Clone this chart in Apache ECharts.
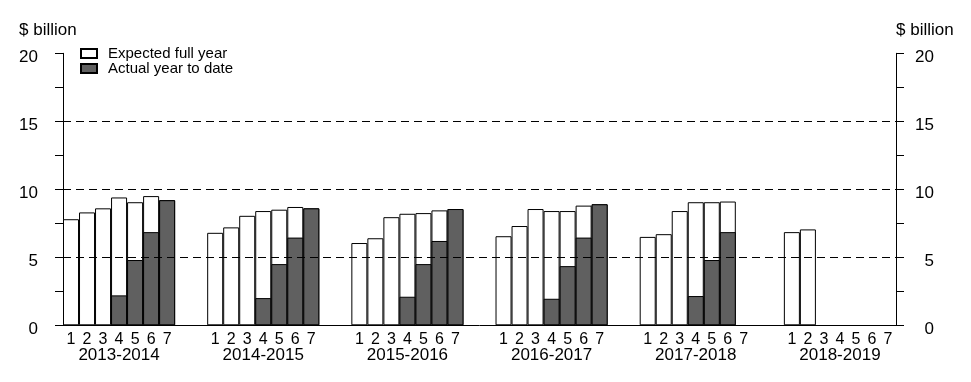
<!DOCTYPE html>
<html>
<head>
<meta charset="utf-8">
<script src="https://cdn.jsdelivr.net/npm/echarts@6/dist/echarts.min.js"></script>
<style>
html,body{margin:0;padding:0;background:#fff;}
#chart{width:971px;height:382px;}
</style>
</head>
<body>
<div id="chart"></div>
<script>
const years = ['2013-2014', '2014-2015', '2015-2016', '2016-2017', '2017-2018', '2018-2019'];
const subLabels = ['1', '2', '3', '4', '5', '6', '7'];
const yTicks = [0, 5, 10, 15, 20];
const gridLines = [5, 10, 15];

const expected_2013_14 = [7.8, 8.3, 8.6, 9.4, 9.05, 9.5, 9.2];
const expected_2014_15 = [6.8, 7.2, 8.05, 8.4, 8.5, 8.7, 8.6];
const expected_2015_16 = [6.05, 6.4, 7.95, 8.2, 8.25, 8.45, 8.55];
const expected_2016_17 = [6.55, 7.3, 8.55, 8.4, 8.4, 8.8, 8.9];
const expected_2017_18 = [6.5, 6.7, 8.4, 9.05, 9.05, 9.1, null];
const expected_2018_19 = [6.85, 7.05, null, null, null, null, null];

const actual_2013_14 = [null, null, null, 2.2, 4.8, 6.85, 9.2];
const actual_2014_15 = [null, null, null, 2.0, 4.5, 6.45, 8.6];
const actual_2015_16 = [null, null, null, 2.1, 4.5, 6.2, 8.55];
const actual_2016_17 = [null, null, null, 1.95, 4.35, 6.45, 8.9];
const actual_2017_18 = [null, null, null, 2.15, 4.8, 6.85, null];
const actual_2018_19 = [null, null, null, null, null, null, null];

const expectedAll = [expected_2013_14, expected_2014_15, expected_2015_16, expected_2016_17, expected_2017_18, expected_2018_19];
const actualAll = [actual_2013_14, actual_2014_15, actual_2015_16, actual_2016_17, actual_2017_18, actual_2018_19];

const GAP = 2;
const cats = [], digitLabels = [], groupLabels = [], expData = [], actData = [];
years.forEach((y, gi) => {
  subLabels.forEach((s, i) => {
    cats.push(y + '-' + s);
    digitLabels.push(s);
    groupLabels.push(i === 3 ? y : '');
    expData.push(expectedAll[gi][i]);
    actData.push(actualAll[gi][i]);
  });
  if (gi < years.length - 1) {
    for (let k = 0; k < GAP; k++) {
      cats.push('gap' + gi + '-' + k);
      digitLabels.push('');
      groupLabels.push('');
      expData.push(null);
      actData.push(null);
    }
  }
});

const FONT = 'Liberation Sans, Arial, sans-serif';
const chart = echarts.init(document.getElementById('chart'), null, {renderer: 'canvas'});

function yAxisCfg(pos) {
  return {
    type: 'value', position: pos, min: 0, max: 20, interval: 5,
    axisLine: {show: true, lineStyle: {color: '#000', width: 1}},
    axisTick: {show: true, length: 8, lineStyle: {color: '#000'}},
    minorTick: {show: true, splitNumber: 2, length: 8, lineStyle: {color: '#000'}},
    axisLabel: {
      show: true,
      color: '#000', fontFamily: FONT, fontSize: 17,
      margin: pos === 'left' ? 25 : 38,
      align: 'right',
      verticalAlign: 'top',
      lineHeight: 9,
      formatter: v => yTicks.indexOf(v) >= 0 ? String(v) : ''
    },
    splitLine: {show: false}
  };
}

chart.setOption({
  animation: false,
  backgroundColor: '#fff',
  title: [
    {text: '$ billion', left: 14, top: 17, textStyle: {fontFamily: FONT, fontSize: 17, fontWeight: 'normal', color: '#000'}},
    {text: '$ billion', left: 891, top: 17, textStyle: {fontFamily: FONT, fontSize: 17, fontWeight: 'normal', color: '#000'}}
  ],
  legend: {
    left: 75, top: 41, orient: 'vertical', itemGap: 0, itemWidth: 16, itemHeight: 9,
    selectedMode: false,
    textStyle: {fontFamily: FONT, fontSize: 15, color: '#000', lineHeight: 15, padding: [0, 0, 0, 6]},
    data: [{name: 'Expected full year', icon: 'rect'}, {name: 'Actual year to date', icon: 'rect'}]
  },
  grid: {left: 63, right: 75, top: 53.3, bottom: 56.7, containLabel: false},
  xAxis: [
    {
      type: 'category', data: cats, position: 'bottom',
      axisLine: {show: true, lineStyle: {color: '#000', width: 1}},
      axisTick: {show: false},
      axisLabel: {interval: 0, margin: 6, color: '#000', fontFamily: FONT, fontSize: 16,
        formatter: (v, i) => digitLabels[i]},
      splitLine: {show: false}
    },
    {
      type: 'category', data: cats, position: 'bottom',
      axisLine: {show: false}, axisTick: {show: false},
      axisLabel: {interval: 0, margin: 22, color: '#000', fontFamily: FONT, fontSize: 17,
        formatter: (v, i) => groupLabels[i]},
      splitLine: {show: false}
    }
  ],
  yAxis: [yAxisCfg('left'), yAxisCfg('right')],
  series: [
    {
      name: 'Expected full year', type: 'bar', data: expData, xAxisIndex: 0, yAxisIndex: 0,
      barCategoryGap: 0, barGap: '-100%',
      itemStyle: {color: '#ffffff', borderColor: '#000', borderWidth: 1},
      markLine: {
        silent: true, symbol: 'none', label: {show: false},
        lineStyle: {color: '#000', type: [8, 5], width: 1},
        data: gridLines.map(v => ({yAxis: v}))
      }
    },
    {
      name: 'Actual year to date', type: 'bar', data: actData, xAxisIndex: 0, yAxisIndex: 0,
      barCategoryGap: 0, barGap: '-100%',
      itemStyle: {color: '#606060', borderColor: '#000', borderWidth: 1}
    }
  ]
});
</script>
</body>
</html>
